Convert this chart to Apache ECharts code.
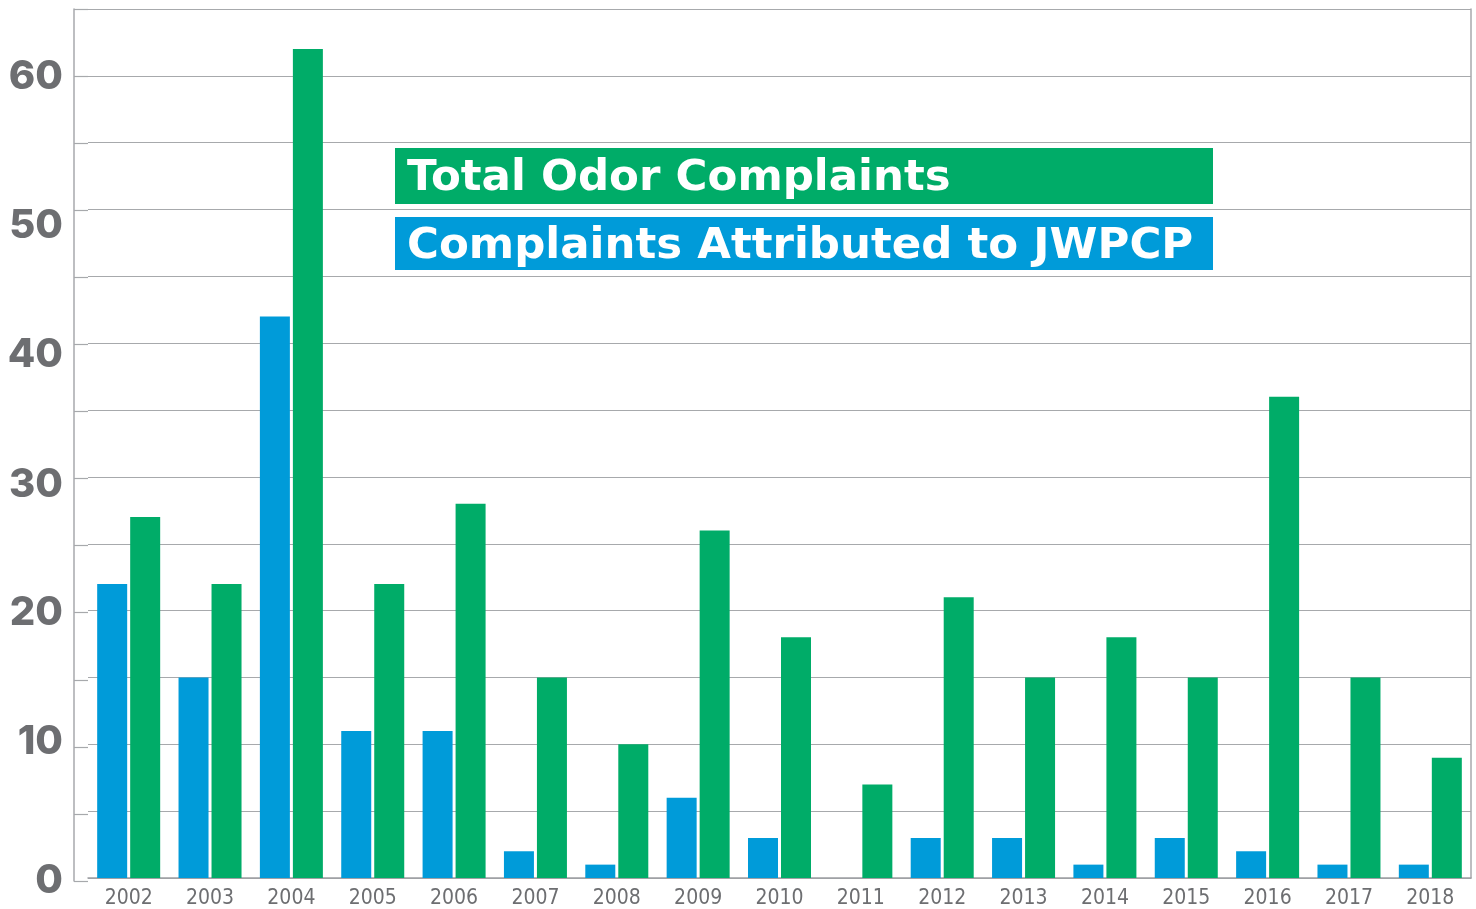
<!DOCTYPE html>
<html>
<head>
<meta charset="utf-8">
<script src="https://cdn.jsdelivr.net/npm/echarts@6/dist/echarts.min.js"></script>
<style>
html,body{margin:0;padding:0;background:#fff;}
#chart{width:1476px;height:909px;}
</style>
</head>
<body>
<div id="chart"></div>
<script>
const years = ['2002','2003','2004','2005','2006','2007','2008','2009','2010','2011','2012','2013','2014','2015','2016','2017','2018'];
const attributed = [22,15,42,11,11,2,1,6,3,0,3,3,1,3,2,1,1];
const total = [27,22,62,22,28,15,10,26,18,7,21,15,18,15,36,15,9];
const yTickLabels = ['0','10','20','30','40','50','60'];

const BLUE = '#009bd9';
const GREEN = '#00ac68';
const GRIDC = '#a7a9ac';
const LABELC = '#6d6e71';

const labelShift = {'0':'s0','10':'s10','20':'s20','30':'s30','40':'s40','50':'s50','60':'s60'};
const richBase = {fontFamily:'Inter, "Open Sans", sans-serif', fontWeight:800, fontSize:40, color:LABELC};
function rs(p){ return Object.assign({padding:p}, richBase); }
const legendFont = {color:'#fff', fontFamily:'"DejaVu Sans", sans-serif', fontWeight:'bold', fontSize:43.5, padding:[6,0,0,0]};

const chart = echarts.init(document.getElementById('chart'), null, {renderer:'canvas'});
chart.setOption({
  animation:false,
  backgroundColor:'#fff',
  grid:[
    {left:74, width:14, top:9, bottom:28},
    {left:88, right:5, top:9, bottom:28}
  ],
  legend:{
    data:[
      {name:'Total Odor Complaints', textStyle:{backgroundColor:GREEN, padding:[8,10,8,12], width:796, height:40, lineHeight:40}},
      {name:'Complaints Attributed to JWPCP', textStyle:{backgroundColor:BLUE, padding:[7,10,6,12], width:796, height:40, lineHeight:40}}
    ],
    formatter:function(name){ return '{t|' + name + '}'; },
    orient:'vertical',
    left:390, top:148,
    padding:0,
    icon:'none',
    itemWidth:0, itemHeight:0,
    itemGap:13,
    selectedMode:false,
    textStyle:{color:'#fff', fontFamily:'"DejaVu Sans", sans-serif', fontWeight:'bold', fontSize:43.5, rich:{t:legendFont}}
  },
  xAxis:[
    {gridIndex:0, type:'category', data:[''], show:false},
    {gridIndex:1, type:'category', data:years,
      axisLine:{show:true, lineStyle:{color:'#9d9fa2', width:1.5}},
      axisTick:{show:false},
      axisLabel:{color:LABELC, fontFamily:'"DejaVu Sans Condensed", sans-serif', fontSize:21, margin:10}
    }
  ],
  yAxis:[
    {gridIndex:0, type:'value', min:0, max:65, interval:5,
      axisLine:{show:true, lineStyle:{color:GRIDC, width:1.5}},
      axisTick:{show:false},
      splitLine:{show:true, lineStyle:{color:GRIDC, width:1.2}},
      axisLabel:{
        margin:11,
        formatter:function(v){
          const s = String(v);
          return yTickLabels.indexOf(s) >= 0 ? '{' + labelShift[s] + '|' + s + '}' : '';
        },
        rich:{
          s0: rs([0,0,0,0]),
          s10: rs([0,0,10,0]),
          s20: rs([0,0,0,0]),
          s30: rs([12,0,0,0]),
          s40: rs([22,0,0,0]),
          s50: rs([32,0,0,0]),
          s60: rs([2,0,0,0])
        }
      }
    },
    {gridIndex:1, type:'value', min:0, max:65, interval:5,
      axisLine:{show:false}, axisTick:{show:false}, axisLabel:{show:false},
      splitLine:{show:true, lineStyle:{color:GRIDC, width:1.2}}
    },
    {gridIndex:1, type:'value', min:0, max:65, interval:5, position:'right',
      axisLine:{show:true, lineStyle:{color:GRIDC, width:1.5}}, axisTick:{show:false}, axisLabel:{show:false},
      splitLine:{show:false}
    }
  ],
  series:[
    {name:'Complaints Attributed to JWPCP', type:'bar', xAxisIndex:1, yAxisIndex:1, data:attributed,
      barWidth:30, barGap:'10%', itemStyle:{color:BLUE}},
    {name:'Total Odor Complaints', type:'bar', xAxisIndex:1, yAxisIndex:1, data:total,
      barWidth:30, barGap:'10%', itemStyle:{color:GREEN}}
  ]
});
</script>
</body>
</html>
